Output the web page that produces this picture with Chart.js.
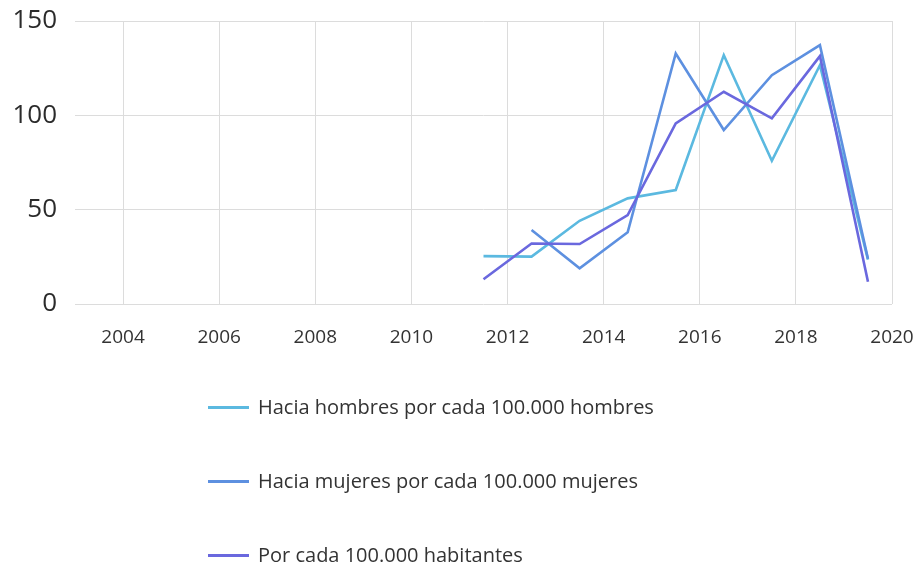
<!DOCTYPE html>
<html lang="es">
<head>
    <meta charset="UTF-8">
    <title>Tasas por cada 100.000</title>
    <script src="https://cdn.jsdelivr.net/npm/chart.js"></script>
    <style>
        body { margin: 0; background: #fff; }
        #wrap { position: relative; width: 917px; height: 569px; font-family: 'Open Sans', sans-serif; }
        #chartBox { position: absolute; left: 0; top: 0; width: 917px; height: 360px; }
        #legend { position: absolute; left: 0; top: 0; width: 917px; height: 569px; pointer-events: none; }
        .item { position: absolute; left: 208px; height: 30px; line-height: 30px; font-size: 20px; color: #333; white-space: nowrap; }
        .swatch { display: inline-block; width: 41px; height: 3px; margin-right: 9px; vertical-align: middle; position: relative; top: -1px; }
    </style>
</head>
<body>
<div id="wrap">
    <div id="chartBox"><canvas id="chart"></canvas></div>
    <div id="legend"></div>
</div>
<script>
    // values
    const years = [2011, 2012, 2013, 2014, 2015, 2016, 2017, 2018, 2019];
    const hombres = [25.4, 25.1, 44.1, 56.0, 60.4, 131.9, 75.9, 126.6, 23.5];
    const mujeres = [null, 39.2, 18.9, 38.0, 132.8, 92.2, 121.3, 137.2, 24.0];
    const habitantes = [13.1, 32.1, 31.8, 47.1, 95.7, 112.5, 98.4, 131.4, 11.8];
    const xTicks = [2004, 2006, 2008, 2010, 2012, 2014, 2016, 2018, 2020];
    const yTicks = [0, 50, 100, 150];

    const labels = [
        'Hacia hombres por cada 100.000 hombres',
        'Hacia mujeres por cada 100.000 mujeres',
        'Por cada 100.000 habitantes'
    ];
    const colors = ['#5bb9e0', '#5d90e0', '#6a68de'];

    // each yearly value is plotted in the middle of its year
    function toPoints(values) {
        return years.map((yr, i) => ({ x: yr + 0.5, y: values[i] }));
    }

    const series = [hombres, mujeres, habitantes];
    const datasets = series.map((values, i) => ({
        label: labels[i],
        data: toPoints(values),
        borderColor: colors[i],
        backgroundColor: colors[i],
        borderWidth: 2.6,
        pointRadius: 0,
        tension: 0,
        order: 3 - i
    }));

    const ctx = document.getElementById('chart').getContext('2d');
    new Chart(ctx, {
        type: 'line',
        data: { datasets: datasets },
        options: {
            responsive: true,
            maintainAspectRatio: false,
            animation: false,
            layout: { padding: { left: 0, right: 25, top: 21, bottom: 0 } },
            plugins: {
                legend: { display: false },
                tooltip: { enabled: false }
            },
            scales: {
                x: {
                    type: 'linear',
                    min: 2003,
                    max: 2020,
                    afterBuildTicks: axis => { axis.ticks = xTicks.map(v => ({ value: v })); },
                    afterFit: axis => {
                        axis.height = 56;
                        axis.paddingLeft = 0;
                        axis.paddingRight = 0;
                    },
                    grid: { color: '#dcdcdc', drawTicks: false },
                    border: { display: false },
                    ticks: {
                        padding: 22,
                        color: '#333',
                        font: { family: 'Open Sans', size: 19 },
                        maxRotation: 0,
                        callback: v => String(v)
                    }
                },
                y: {
                    min: 0,
                    max: 150,
                    afterBuildTicks: axis => { axis.ticks = yTicks.map(v => ({ value: v })); },
                    afterFit: axis => {
                        axis.width = 75;
                        axis.paddingTop = 0;
                        axis.paddingBottom = 0;
                    },
                    grid: { color: '#dcdcdc', drawTicks: false },
                    border: { display: false },
                    ticks: {
                        padding: 18,
                        color: '#2b2b2b',
                        font: { family: 'Open Sans', size: 26 }
                    }
                }
            }
        }
    });

    // legend stacked below the chart
    const legendEl = document.getElementById('legend');
    const legendTops = [392, 466, 540];
    labels.forEach((text, i) => {
        const item = document.createElement('div');
        item.className = 'item';
        item.style.top = legendTops[i] + 'px';
        const sw = document.createElement('span');
        sw.className = 'swatch';
        sw.style.background = colors[i];
        item.appendChild(sw);
        item.appendChild(document.createTextNode(text));
        legendEl.appendChild(item);
    });
</script>
</body>
</html>
